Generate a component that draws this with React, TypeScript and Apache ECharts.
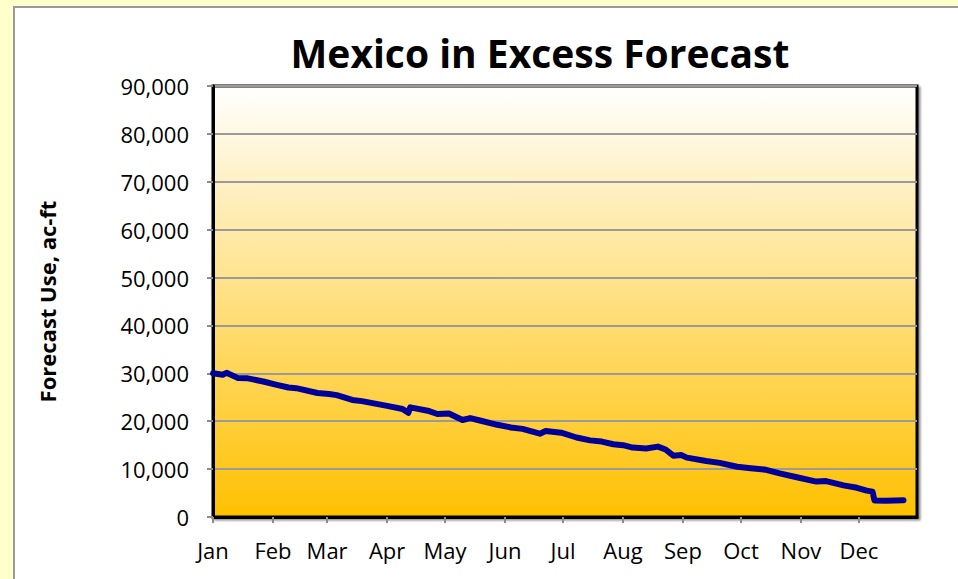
import React, { useEffect, useRef } from "react";
import * as echarts from "echarts";

const monthLabels = ["Jan", "Feb", "Mar", "Apr", "May", "Jun", "Jul", "Aug", "Sep", "Oct", "Nov", "Dec"];
const monthStartDays = [0, 31, 59, 90, 120, 151, 181, 212, 243, 273, 304, 334];
const yTicks = [0, 10000, 20000, 30000, 40000, 50000, 60000, 70000, 80000, 90000];

const forecastDays = [
  0, 5, 7, 13, 18, 26, 33, 39, 43, 54, 60, 64, 72, 77, 90, 98, 101, 102, 111, 116,
  122, 129, 133, 138, 147, 154, 160, 169, 172, 180, 188, 195, 201, 207, 212, 217, 224, 230, 234, 238,
  242, 245, 255, 262, 271, 278, 286, 293, 303, 312, 317, 326, 333, 338, 341, 342, 348, 357,
];
const forecastUse = [
  30000, 29700, 30100, 29000, 28950, 28300, 27600, 27050, 26900, 25900, 25700, 25450, 24450, 24200, 23200, 22550, 21750, 22900, 22200, 21500,
  21600, 20250, 20650, 20150, 19250, 18700, 18400, 17400, 17950, 17600, 16600, 16000, 15750, 15200, 15000, 14500, 14300, 14700, 14100, 12800,
  12950, 12400, 11700, 11300, 10500, 10200, 9850, 9100, 8200, 7400, 7500, 6600, 6100, 5500, 5300, 3450, 3400, 3500,
];

const FONT = "'Open Sans', 'Noto Sans', sans-serif";

export default function App() {
  const ref = useRef<HTMLDivElement>(null);
  useEffect(() => {
    if (!ref.current) return;
    const chart = echarts.init(ref.current, undefined, { renderer: "svg" });
    const data = forecastDays.map((d, i) => [d, forecastUse[i]]);
    chart.setOption({
      animation: false,
      backgroundColor: "#FFFFCC",
      graphic: [
        {
          type: "rect",
          z: -10,
          shape: { x: 14, y: 7, width: 960, height: 590 },
          style: { fill: "#FFFFFF", stroke: "#9a9a9a", lineWidth: 2 },
          silent: true,
        },
      ],
      title: {
        text: "Mexico in Excess Forecast",
        left: 535,
        top: 28,
        textAlign: "center",
        textStyle: { fontFamily: FONT, fontWeight: "bold", fontSize: 39, color: "#000" },
      },
      grid: {
        left: 213,
        top: 86,
        right: 41,
        bottom: 62,
        show: true,
        borderColor: "#000",
        borderWidth: 3,
        shadowColor: "rgba(0,0,0,0.45)",
        shadowOffsetX: 2,
        shadowOffsetY: 2,
        shadowBlur: 2,
        backgroundColor: {
          type: "linear",
          x: 0,
          y: 0,
          x2: 0,
          y2: 1,
          colorStops: [
            { offset: 0, color: "#FFFFFF" },
            { offset: 1, color: "#FFC000" },
          ],
        },
      },
      xAxis: {
        type: "value",
        min: 0,
        max: 364,
        splitLine: { show: false },
        axisLine: { show: true, lineStyle: { color: "#000", width: 3 } },
        axisTick: {
          show: true,
          length: 6,
          customValues: monthStartDays,
          lineStyle: { color: "#8c8c8c", width: 2 },
        },
        axisLabel: {
          customValues: monthStartDays,
          formatter: (v: number) => monthLabels[monthStartDays.indexOf(v)] ?? "",
          fontFamily: FONT,
          fontSize: 22,
          color: "#000",
          margin: 22,
        },
      },
      yAxis: {
        type: "value",
        min: 0,
        max: 90000,
        interval: 10000,
        name: "Forecast Use, ac-ft",
        nameLocation: "middle",
        nameGap: 155,
        nameTextStyle: { fontFamily: FONT, fontWeight: "bold", fontSize: 22, color: "#000" },
        axisLine: { show: true, lineStyle: { color: "#000", width: 3 } },
        axisTick: { show: true, length: 6, lineStyle: { color: "#8c8c8c", width: 2 } },
        axisLabel: {
          fontFamily: FONT,
          fontSize: 22,
          color: "#000",
          margin: 24,
          formatter: (v: number) => (yTicks.includes(v) ? v.toLocaleString("en-US") : ""),
        },
        splitLine: { show: true, lineStyle: { color: "#9a9a9a", width: 2 } },
      },
      series: [
        {
          type: "line",
          data,
          symbol: "none",
          lineStyle: { color: "#000099", width: 6, cap: "round", join: "round" },
          z: 5,
        },
      ],
    });
    return () => chart.dispose();
  }, []);
  return (
    <div
      ref={ref}
      style={{ position: "fixed", left: 0, top: 0, width: 958, height: 579 }}
    />
  );
}
